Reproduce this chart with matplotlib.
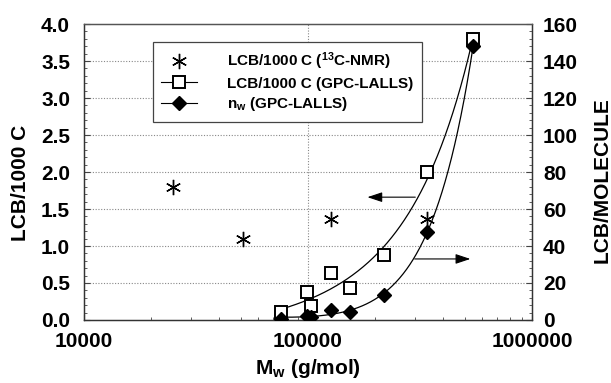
import numpy as np
import matplotlib
matplotlib.use("Agg")
import matplotlib.pyplot as plt
from matplotlib.ticker import MultipleLocator, FixedLocator, NullFormatter
from matplotlib.lines import Line2D

plt.rcParams['font.family'] = ['Liberation Sans', 'DejaVu Sans']
plt.rcParams['font.weight'] = 'bold'
plt.rcParams['mathtext.fontset'] = 'custom'
plt.rcParams['mathtext.rm'] = 'Liberation Sans:bold'
plt.rcParams['mathtext.bf'] = 'Liberation Sans:bold'
plt.rcParams['mathtext.it'] = 'Liberation Sans:bold'

# 13C-NMR data (left axis)
nmr_mw = [25000, 51000, 127000, 340000]
nmr_lcb = [1.8, 1.1, 1.36, 1.36]

# GPC-LALLS data
gpc_mw = [75700, 99000, 103000, 127000, 154000, 218000, 340000, 546000]
gpc_lcb = [0.11, 0.38, 0.19, 0.63, 0.43, 0.88, 2.0, 3.8]
gpc_nw = [0.6, 2.2, 1.4, 5.5, 4.5, 13.5, 47.6, 148]

x_ticks = [10000, 100000, 1000000]
x_ticklabels = ['10000', '100000', '1000000']

fig = plt.figure(figsize=(6.11, 3.83), dpi=100)
ax = fig.add_axes([0.1375, 0.1645, 0.7332, 0.7728])
ax2 = ax.twinx()

ax.set_xscale('log')
ax.set_xlim(10000, 1000000)
ax.set_ylim(0, 4.0)
ax2.set_ylim(0, 160)

# grid
for yv in np.arange(0.5, 4.0, 0.5):
    ax.axhline(yv, color='#888888', lw=0.8, ls=(0, (1, 1.5)), zorder=0)
ax.axvline(100000, color='#888888', lw=0.8, ls=(0, (1, 1.5)), zorder=0)

# fitted curves (quadratic fits in Mw)
xs = np.linspace(min(gpc_mw), max(gpc_mw), 300)
p1 = np.polyfit(gpc_mw, gpc_lcb, 2)
ax.plot(xs, np.polyval(p1, xs), color='black', lw=0.9, zorder=2)
p2 = np.polyfit(gpc_mw, gpc_nw, 2)
ax2.plot(xs, np.clip(np.polyval(p2, xs), 0, None), color='black', lw=0.9, zorder=2)

ax.plot(nmr_mw, nmr_lcb, ls='none', marker=(6, 2, 0), ms=11, mec='black', mew=1.0,
        color='black', zorder=4)
ax.plot(gpc_mw, gpc_lcb, ls='none', marker='s', ms=9, mfc='white', mec='black',
        mew=1.4, zorder=3)
ax2.plot(gpc_mw, gpc_nw, ls='none', marker='D', ms=7, color='black', zorder=5)

# arrows
ax.annotate('', xy=(179000, 1.66), xytext=(310000, 1.66),
            arrowprops=dict(arrowstyle='-|>,head_length=0.9,head_width=0.3', color='black', lw=0.8))
ax2.annotate('', xy=(546000, 33), xytext=(291000, 33),
             arrowprops=dict(arrowstyle='-|>,head_length=0.9,head_width=0.3', color='black', lw=0.8))

# ticks
FS = 15
ax.yaxis.set_major_locator(MultipleLocator(0.5))
ax.yaxis.set_minor_locator(MultipleLocator(0.1))
ax.yaxis.set_major_formatter(matplotlib.ticker.FormatStrFormatter('%.1f'))
ax2.yaxis.set_major_locator(MultipleLocator(20))
ax2.yaxis.set_minor_locator(MultipleLocator(4))
ax.xaxis.set_major_locator(FixedLocator(x_ticks))
ax.set_xticklabels(x_ticklabels)
ax.xaxis.set_minor_formatter(NullFormatter())
ax.tick_params(axis='y', which='major', direction='in', length=4, labelsize=FS, pad=10, color='#444444')
ax.tick_params(axis='y', which='minor', direction='in', length=2, color='#444444')
ax.tick_params(axis='x', which='major', direction='in', length=4, labelsize=FS, pad=9, color='#444444')
ax.tick_params(axis='x', which='minor', direction='in', length=2, color='#444444')
ax2.tick_params(axis='y', which='major', direction='in', length=4, labelsize=FS, pad=8, color='#444444')
ax2.tick_params(axis='y', which='minor', direction='in', length=2, color='#444444')
for lab in ax.get_xticklabels() + ax.get_yticklabels() + ax2.get_yticklabels():
    lab.set_fontweight('bold')

for a in (ax, ax2):
    for s in ('left', 'right', 'bottom'):
        a.spines[s].set_color('#333333')
        a.spines[s].set_linewidth(0.9)
    a.spines['top'].set_color('#555555')
    a.spines['top'].set_linestyle((0, (2, 1)))
    a.spines['top'].set_linewidth(0.9)

ax.set_ylabel('LCB/1000 C', fontsize=FS, fontweight='bold')
ax.yaxis.set_label_coords(-0.1205, 0.463)
ax2.set_ylabel('LCB/MOLECULE', fontsize=FS, fontweight='bold')
ax2.yaxis.set_label_coords(1.136, 0.473)
ax.set_xlabel(r'M$_\mathbf{w}$ (g/mol)', fontsize=FS, fontweight='bold', labelpad=4)

# legend
h1 = Line2D([], [], ls='none', marker=(6, 2, 0), ms=11, color='black', mew=1.0)
h2 = Line2D([], [], ls='-', lw=0.8, color='black', marker='s', ms=9, mfc='white', mec='black', mew=1.4)
h3 = Line2D([], [], ls='-', lw=0.8, color='black', marker='D', ms=7)
leg = ax2.legend([h1, h2, h3],
                 [r'LCB/1000 C ($^\mathbf{13}$C-NMR)', 'LCB/1000 C (GPC-LALLS)',
                  r'n$_\mathbf{w}$ (GPC-LALLS)'],
                 loc='upper left', bbox_to_anchor=(0.154, 0.939), fancybox=False,
                 edgecolor='#444444', framealpha=1, prop={'weight': 'bold', 'size': 11},
                 handlelength=2.3, borderpad=0.55, labelspacing=0.3, handletextpad=2.0,
                 borderaxespad=0)
leg.get_frame().set_linewidth(0.9)

fig.savefig('out.png', dpi=100)
